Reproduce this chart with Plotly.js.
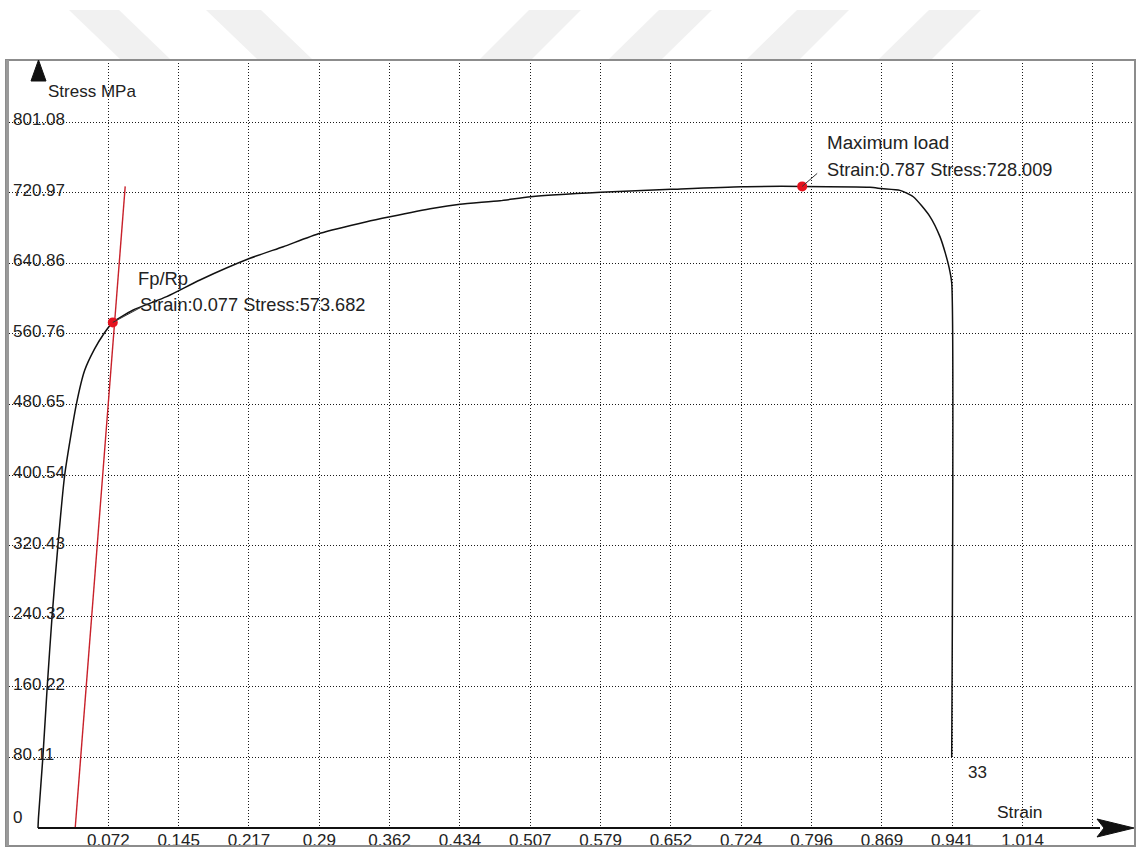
<!DOCTYPE html>
<html>
<head>
<meta charset="utf-8">
<script src="https://cdn.plot.ly/plotly-3.0.1.min.js"></script>
<style>html,body{margin:0;padding:0;background:#fff;}#chart{width:1139px;height:850px;}</style>
</head>
<body>
<div id="chart"></div>
<script>
// ---- data ----
const curveStrain = [0, 0.0005, 0.005, 0.0095, 0.0145, 0.0205, 0.0275, 0.0395, 0.048, 0.058, 0.0678, 0.077,
  0.0981, 0.1325, 0.1668, 0.2183, 0.2526, 0.2904, 0.3385, 0.3625, 0.4071, 0.4346, 0.4758, 0.5074,
  0.5795, 0.6519, 0.7247, 0.787, 0.8569, 0.8689, 0.8877, 0.9014, 0.9186, 0.9289, 0.9345, 0.9385, 0.941, 0.941];
const curveStress = [0, 12, 80.11, 160.22, 240.32, 320.43, 400.54, 480.65, 519, 543, 560.76, 573.68,
  587.8, 602.9, 621.8, 646.4, 659.6, 674.8, 688.0, 693.6, 703.2, 707.7, 711.8, 716.3,
  721.3, 724.7, 727.7, 728.0, 727.0, 725.5, 723.5, 716.3, 693.8, 671.0, 652.0, 635.0, 618.4, 80.5];
const offsetStrain = [0.0383, 0.0898];
const offsetStress = [0, 728];
const keyStrain = [0.077, 0.787];
const keyStress = [573.682, 728.009];
const xTickVals = [0, 0.072428, 0.144857, 0.217285, 0.289714, 0.362142, 0.434571, 0.506999, 0.579428, 0.651856, 0.724285, 0.796713, 0.869142, 0.94157, 1.013999, 1.086427];
const xTickText = ['0', '0.072', '0.145', '0.217', '0.29', '0.362', '0.434', '0.507', '0.579', '0.652', '0.724', '0.796', '0.869', '0.941', '1.014', ''];
const yTickVals = [80.108, 160.216, 240.324, 320.432, 400.54, 480.648, 560.756, 640.864, 720.972, 801.08];
const yTickText = ['80.11', '160.22', '240.32', '320.43', '400.54', '480.65', '560.76', '640.86', '720.97', '801.08'];

// ---- geometry (page pixels) ----
const W = 1139, H = 850;
const PL = 6, PR = 1135, PT = 60, PB = 828;
const X0PX = 38, XPPU = 971;     // pixel of strain 0, pixels per unit strain
const YPPU = 0.88131;            // pixels per MPa
const xr = [(PL - X0PX) / XPPU, (PR - X0PX) / XPPU];
const yr = [0, (PB - PT) / YPPU];
const px = v => (v - PL) / (PR - PL);
const py = v => (PB - v) / (PB - PT);
const dx = v => (v - X0PX) / XPPU;

const FONT = 'Liberation Sans, Arial, sans-serif';
const TXT = '#222';

function poly(pts) {
  return 'M' + pts.map(p => px(p[0]) + ',' + py(p[1])).join(' L') + ' Z';
}

const shapes = [];
// watermark chevrons
const wm = [
  [[69,10],[119,10],[170,59],[120,59]],
  [[206,10],[261,10],[312,59],[257,59]],
  [[529,10],[581,10],[532,59],[480,59]],
  [[659,10],[712,10],[662,59],[609,59]],
  [[797,10],[849,10],[800,59],[747,59]],
  [[929,10],[981,10],[932,59],[879,59]]
];
wm.forEach(p => shapes.push({type:'path', xref:'paper', yref:'paper', path: poly(p), fillcolor:'#f1f1f1', line:{width:0}, layer:'below'}));
// frame
shapes.push({type:'rect', xref:'paper', yref:'paper', x0: px(6), x1: px(1135), y0: py(846), y1: py(60), line:{color:'#8c8c8c', width:2}, layer:'above'});
shapes.push({type:'line', xref:'paper', yref:'paper', x0: px(7.5), x1: px(7.5), y0: py(846), y1: py(60), line:{color:'#9a9a9a', width:3}});
// x axis line + arrow
shapes.push({type:'line', xref:'paper', yref:'paper', x0: px(X0PX), x1: px(1100), y0: 0, y1: 0, line:{color:'#111', width:1.8}});
shapes.push({type:'path', xref:'paper', yref:'paper', path: poly([[1097,819],[1134,828],[1097,837],[1104,828]]), fillcolor:'#111', line:{color:'#111', width:1}});
// y axis arrow
shapes.push({type:'path', xref:'paper', yref:'paper', path: poly([[38.5,60],[46,81],[31,81]]), fillcolor:'#111', line:{color:'#111', width:1}});
// leader lines
shapes.push({type:'line', xref:'x', yref:'y', xsizemode:'pixel', ysizemode:'pixel', xanchor: keyStrain[0], yanchor: keyStress[0], x0:0, y0:0, x1:28, y1:15, line:{color:'#333', width:1}});
shapes.push({type:'line', xref:'x', yref:'y', xsizemode:'pixel', ysizemode:'pixel', xanchor: keyStrain[1], yanchor: keyStress[1], x0:0, y0:0, x1:15, y1:13, line:{color:'#333', width:1}});

const ann = (text, xPix, yPix, size) => ({
  text, x: dx(xPix), y: (PB - yPix) / YPPU, xref:'x', yref:'y', xanchor:'left', yanchor:'middle',
  showarrow:false, font:{family: FONT, size: size, color: TXT}
});
const annotations = [
  ann('Fp/Rp', 136, 278, 18.4),
  ann('Strain:' + keyStrain[0].toFixed(3) + ' Stress:' + keyStress[0].toFixed(3), 138, 305, 18.2),
  ann('Maximum load', 825, 142, 18.8),
  ann('Strain:' + keyStrain[1].toFixed(3) + ' Stress:' + keyStress[1].toFixed(3), 825, 170, 18.2),
  ann('Stress MPa', 46, 91, 17),
  ann('Strain', 995, 812, 17.4),
  ann('33', 966, 772, 17),
  ann('0', 11, 817, 17)
];

const traces = [
  {x: offsetStrain, y: offsetStress, type:'scatter', mode:'lines', line:{color:'#c8202a', width:1.4}, cliponaxis:false, hoverinfo:'skip'},
  {x: curveStrain, y: curveStress, type:'scatter', mode:'lines', line:{color:'#111', width:1.5, shape:'spline', smoothing:0.6}, cliponaxis:false, hoverinfo:'skip'},
  {x: keyStrain, y: keyStress, type:'scatter', mode:'markers', marker:{color:'#e5121e', size:10}, cliponaxis:false, hoverinfo:'skip'}
];

const layout = {
  width: W, height: H,
  margin: {l: PL, r: W - PR, t: PT, b: H - PB, pad: 0},
  paper_bgcolor: '#fff', plot_bgcolor: '#fff',
  showlegend: false,
  font: {family: FONT, size: 17, color: TXT},
  xaxis: {
    range: xr, tickmode:'array', tickvals: xTickVals, ticktext: xTickText,
    showgrid: true, gridcolor:'#1a1a1a', griddash:'1px,2px', gridwidth:1,
    zeroline: true, zerolinecolor:'#111', zerolinewidth:1.8,
    showline:false, ticks:'', automargin:false, fixedrange:true,
    tickfont:{family: FONT, size:17, color: TXT}
  },
  yaxis: {
    range: yr, tickmode:'array', tickvals: yTickVals, ticktext: yTickText,
    showgrid: true, gridcolor:'#1a1a1a', griddash:'1px,2px', gridwidth:1,
    zeroline:false, showline:false, ticks:'', automargin:false, fixedrange:true,
    ticklabelposition:'inside', ticklabelshift: -3, ticklabelstandoff: 4,
    tickfont:{family: FONT, size:17, color: TXT}
  },
  shapes, annotations
};

Plotly.newPlot('chart', traces, layout, {displayModeBar:false, staticPlot:true});
</script>
</body>
</html>
